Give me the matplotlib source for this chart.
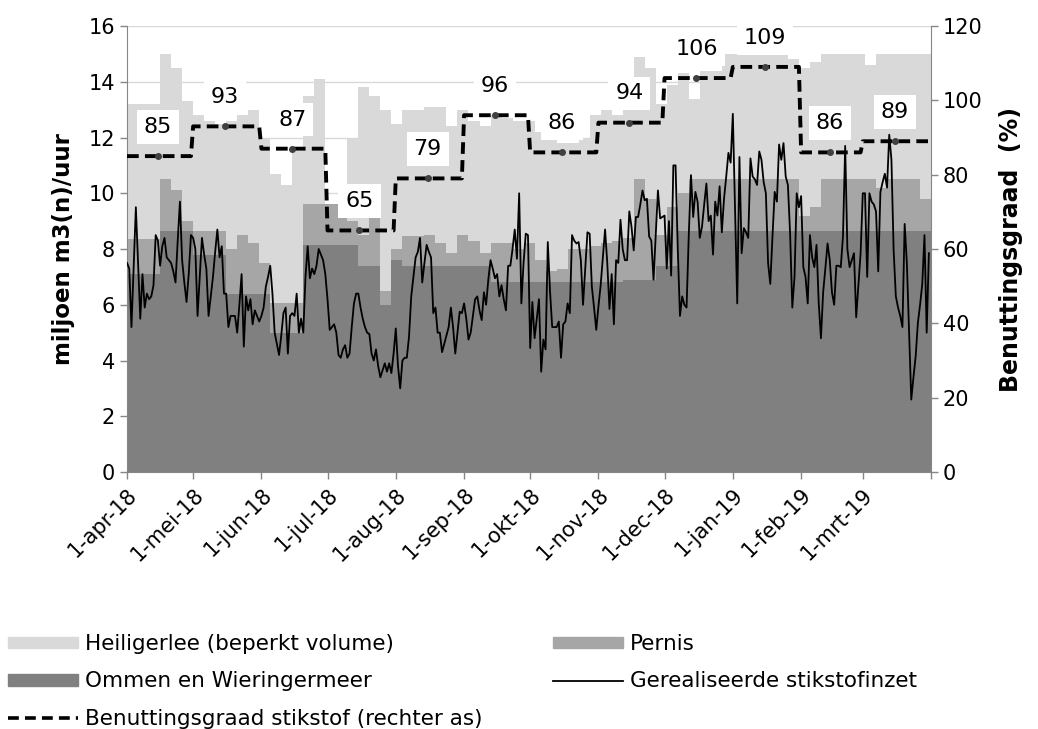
import numpy as np
import matplotlib
matplotlib.use('Agg')
import matplotlib.pyplot as plt
from matplotlib.patches import Patch
from matplotlib.lines import Line2D

# gerealiseerde stikstofinzet, dagwaarden per maand (miljoen m3(n)/uur)
inzet_apr = [7.5, 7.3, 5.2, 7.3, 9.5, 7.5, 5.5, 7.1, 5.9, 6.4, 6.2, 6.3, 6.7, 8.5, 8.3, 7.4, 8.1, 8.4, 7.7, 7.6,
             7.5, 7.2, 6.8, 8.3, 9.7, 7.6, 6.8, 6.1, 7.1, 8.5]
inzet_mei = [8.4, 8.0, 5.6, 7.0, 8.4, 7.8, 7.3, 5.6, 6.3, 7.0, 7.9, 8.7, 7.7, 8.1, 6.4, 6.4, 5.2, 5.6, 5.6, 5.6,
             5.0, 6.0, 7.1, 4.5, 6.3, 5.8, 6.2, 5.3, 5.8, 5.6, 5.4]
inzet_jun = [5.6, 5.9, 6.65, 7.0, 7.4, 6.4, 5.0, 4.6, 4.2, 4.9, 5.7, 5.9, 4.25, 5.6, 5.7, 5.6, 6.4, 5.0, 5.5, 5.0,
             7.0, 8.1, 6.95, 7.3, 7.1, 7.4, 8.0, 7.8, 7.6, 7.1]
inzet_jul = [6.2, 5.1, 5.2, 5.3, 5.0, 4.2, 4.1, 4.4, 4.55, 4.1, 4.25, 5.2, 6.05, 6.4, 6.4, 5.9, 5.5, 5.2, 5.0, 4.95,
             4.25, 4.0, 4.4, 3.8, 3.4, 3.65, 3.9, 3.6, 3.9, 3.55, 4.25]
inzet_aug = [5.15, 3.8, 3.0, 4.0, 4.1, 4.1, 4.85, 6.3, 7.0, 7.7, 7.9, 8.4, 6.8, 7.5, 8.15, 7.9, 7.7, 5.7, 5.9, 5.0,
             5.0, 4.3, 4.6, 4.9, 5.2, 5.9, 5.2, 4.25, 5.0, 5.75, 5.7]
inzet_sep = [6.05, 5.5, 4.75, 5.0, 5.6, 6.2, 6.3, 5.8, 5.45, 6.45, 6.0, 6.9, 7.6, 7.3, 6.95, 7.1, 6.3, 6.7, 6.2, 5.8,
             7.4, 7.4, 8.0, 8.7, 7.65, 10.0, 6.05, 7.5, 8.55, 8.5]
inzet_okt = [4.45, 6.1, 4.8, 5.5, 6.2, 3.6, 4.75, 4.4, 8.25, 6.5, 5.2, 5.2, 5.2, 5.4, 4.1, 5.3, 5.4, 6.05, 5.7, 8.5,
             8.3, 8.2, 8.25, 7.6, 6.0, 7.3, 8.6, 8.55, 6.65, 5.9, 5.1]
inzet_nov = [5.95, 6.7, 7.7, 8.7, 7.5, 5.85, 7.1, 5.3, 7.6, 7.5, 9.05, 8.0, 7.6, 7.6, 9.35, 8.8, 7.95, 9.15, 9.15, 9.6,
             10.1, 9.75, 9.8, 8.45, 8.3, 6.9, 8.5, 10.1, 9.1, 9.15]
inzet_dec = [9.2, 7.3, 9.0, 7.05, 11.0, 11.0, 8.0, 5.6, 6.3, 6.0, 5.9, 8.5, 10.65, 9.15, 10.05, 9.7, 8.4, 8.8, 9.6, 10.35,
             9.0, 9.2, 7.8, 9.7, 9.2, 10.25, 8.6, 9.8, 10.6, 11.45, 11.1]
inzet_jan = [12.85, 9.45, 6.05, 11.3, 7.85, 8.75, 8.6, 8.4, 11.25, 10.6, 10.5, 10.3, 11.5, 11.2, 10.4, 10.0, 7.5, 6.75,
             8.45, 10.05, 9.7, 11.75, 11.2, 11.8, 10.6, 10.3, 8.55, 5.9, 7.0, 10.0, 9.5]
inzet_feb = [9.9, 7.35, 7.0, 6.05, 8.5, 7.7, 7.35, 8.15, 6.05, 4.8, 6.45, 7.3, 8.2, 7.6, 6.45, 6.0, 7.4, 7.4, 7.35, 8.45,
             11.7, 8.0, 7.35, 7.6, 7.85, 5.55, 6.7, 7.85]
inzet_mrt = [10.0, 10.0, 7.0, 10.0, 9.7, 9.6, 9.35, 7.2, 10.05, 10.4, 10.7, 10.2, 12.1, 11.2, 7.95, 6.3, 5.9, 5.6, 5.2,
             8.9, 7.5, 5.0, 2.6, 3.4, 4.15, 5.35, 6.0, 6.75, 8.5, 5.0, 7.85]

# beschikbare capaciteit per periode van 5 dagen (miljoen m3(n)/uur)
ommen = [7.1, 7.1, 7.1, 8.65, 8.65, 8.65, 7.8, 7.8, 7.8, 6.4, 6.4, 6.4, 6.4, 5.0, 5.0, 5.0,
         8.15, 8.15, 8.15, 8.15, 8.15, 7.4, 7.4, 6.0, 7.6, 7.4, 7.4, 7.4, 7.4, 7.4, 7.4, 7.4, 7.4,
         6.8, 6.8, 6.8, 6.8, 6.8, 6.8, 6.8, 6.8, 6.8, 6.8, 6.8, 6.8, 6.9, 6.9, 6.9, 7.4, 7.4,
         8.65, 8.65, 8.65, 8.65, 8.65, 8.65, 8.65, 8.65, 8.65, 8.65, 8.65, 8.65, 8.65, 8.65, 8.65,
         8.65, 8.65, 8.65, 8.65, 8.65, 8.65, 8.65, 8.65]
pernis = [1.25, 1.25, 1.25, 1.85, 1.45, 0.35, 0.85, 0.85, 0.85, 1.6, 2.1, 1.8, 1.1, 1.05, 1.05, 1.05,
          1.45, 1.45, 1.45, 1.45, 0.85, 1.1, 1.9, 0.5, 0.4, 1.05, 1.05, 1.1, 0.8, 0.45, 1.1, 0.9, 0.45,
          1.4, 1.4, 1.2, 1.4, 0.8, 0.4, 0.5, 1.2, 1.2, 1.3, 1.4, 1.5, 1.5, 3.6, 2.9, 1.1, 2.1,
          1.35, 1.85, 1.85, 1.85, 1.85, 1.85, 1.85, 1.85, 1.85, 1.85, 1.85, 0.55, 0.85, 1.85, 1.85,
          1.85, 1.85, 1.85, 1.55, 1.85, 1.85, 1.85, 1.15]
heiligerlee = [4.85, 4.85, 4.85, 4.5, 4.4, 4.3, 4.15, 3.95, 3.85, 4.6, 4.3, 4.8, 4.5, 4.65, 4.25, 5.45,
               3.9, 4.5, 0.0, 0.0, 3.0, 5.3, 4.2, 6.5, 4.5, 4.55, 4.55, 4.6, 4.9, 4.55, 4.5, 4.3, 4.55,
               4.6, 4.5, 4.6, 4.4, 4.6, 4.7, 4.5, 3.8, 4.0, 4.7, 4.8, 4.5, 4.6, 4.4, 4.7, 4.7, 4.4,
               4.3, 2.9, 3.9, 3.9, 4.5, 4.5, 4.5, 4.5, 4.5, 4.5, 4.3, 5.3, 5.2, 4.5, 4.5,
               4.5, 4.5, 4.1, 4.8, 4.5, 4.5, 4.5, 5.2]

# benuttingsgraad stikstof per maand (%)
benutting = [85, 93, 87, 65, 79, 96, 86, 94, 106, 109, 86, 89]
maanden = ['1-apr-18', '1-mei-18', '1-jun-18', '1-jul-18', '1-aug-18', '1-sep-18',
           '1-okt-18', '1-nov-18', '1-dec-18', '1-jan-19', '1-feb-19', '1-mrt-19']
maand_start = [0, 30, 61, 91, 122, 153, 183, 214, 244, 275, 306, 334, 365]

inzet = np.array(inzet_apr + inzet_mei + inzet_jun + inzet_jul + inzet_aug + inzet_sep +
                 inzet_okt + inzet_nov + inzet_dec + inzet_jan + inzet_feb + inzet_mrt)
dagen = np.arange(len(inzet))

size = 15
c_light = '#D9D9D9'
c_mid = '#A6A6A6'
c_dark = '#808080'
c_axis = '#868686'

fig = plt.figure(figsize=(10.38, 7.29), dpi=100)
ax = fig.add_axes([0.1224, 0.3525, 0.7746, 0.6118])

# stacked capacities as steps
xb = np.append(np.arange(0, 365, 5), 365)
l1 = np.array(ommen)
l2 = l1 + np.array(pernis)
l3 = l2 + np.array(heiligerlee)
l1 = np.append(l1, l1[-1])
l2 = np.append(l2, l2[-1])
l3 = np.append(l3, l3[-1])
ax.fill_between(xb, 0, l1, step='post', color=c_dark, lw=0, zorder=2)
ax.fill_between(xb, l1, l2, step='post', color=c_mid, lw=0, zorder=2)
ax.fill_between(xb, l2, l3, step='post', color=c_light, lw=0, zorder=2)

ax.plot(dagen, inzet, color='black', lw=1.3, zorder=3)

ax.set_xlim(0, 365)
ax.set_ylim(0, 16)
ax.set_yticks(np.arange(0, 17, 2))
ax.set_xticks(maand_start)
ax.set_xticklabels(maanden + [''], rotation=45, ha='right', rotation_mode='anchor')
ax.yaxis.grid(True, color=c_light, lw=1)
ax.set_axisbelow(True)
ax.tick_params(axis='both', direction='out', length=5, color=c_axis, labelsize=size, width=1)
ax.tick_params(axis='x', pad=4)
for s in ['top', 'right']:
    ax.spines[s].set_visible(False)
for s in ['left', 'bottom']:
    ax.spines[s].set_color(c_axis)
ax.set_ylabel('miljoen m3(n)/uur', fontsize=16.5, fontweight='bold', labelpad=10)

ax2 = ax.twinx()
ax2.set_ylim(0, 120)
ax2.set_yticks(np.arange(0, 121, 20))
ax2.tick_params(axis='y', direction='out', length=5, color=c_axis, labelsize=size, width=1)
for s in ['top', 'left', 'bottom']:
    ax2.spines[s].set_visible(False)
ax2.spines['right'].set_color(c_axis)
ax2.set_ylabel('Benuttingsgraad  (%)', fontsize=17, fontweight='bold', labelpad=12)

bx = []
by = []
for i, v in enumerate(benutting):
    bx += [maand_start[i], maand_start[i + 1] - 1]
    by += [v, v]
ax2.plot(bx, by, color='black', lw=2.8, linestyle=(0, (3, 1.6)), zorder=4)
mid = [(maand_start[i] + maand_start[i + 1]) / 2 - 1 for i in range(12)]
ax2.plot(mid, benutting, linestyle='none', marker='o', ms=4, color='#404040', zorder=5)
for xm, v in zip(mid, benutting):
    ax2.annotate(str(v), (xm, v), xytext=(0, 21), textcoords='offset points', ha='center', va='center',
                 fontsize=16, bbox=dict(facecolor='white', edgecolor='none', pad=5), zorder=6)

handles = [Patch(color=c_light), Patch(color=c_dark),
           Line2D([], [], color='black', lw=2.6, linestyle=(0, (3, 1.7))),
           Patch(color=c_mid), Line2D([], [], color='black', lw=1.3)]
labels = ['Heiligerlee (beperkt volume)', 'Ommen en Wieringermeer', 'Benuttingsgraad stikstof (rechter as)',
          'Pernis', 'Gerealiseerde stikstofinzet']
fig.legend(handles, labels, loc='upper left', bbox_to_anchor=(0.008, 0.13), ncol=2, frameon=False,
           fontsize=15.5, handlelength=3.25, handleheight=0.45, handletextpad=0.3, columnspacing=3.3,
           labelspacing=0.8, borderpad=0, borderaxespad=0)

fig.savefig('out.png', dpi=100)
